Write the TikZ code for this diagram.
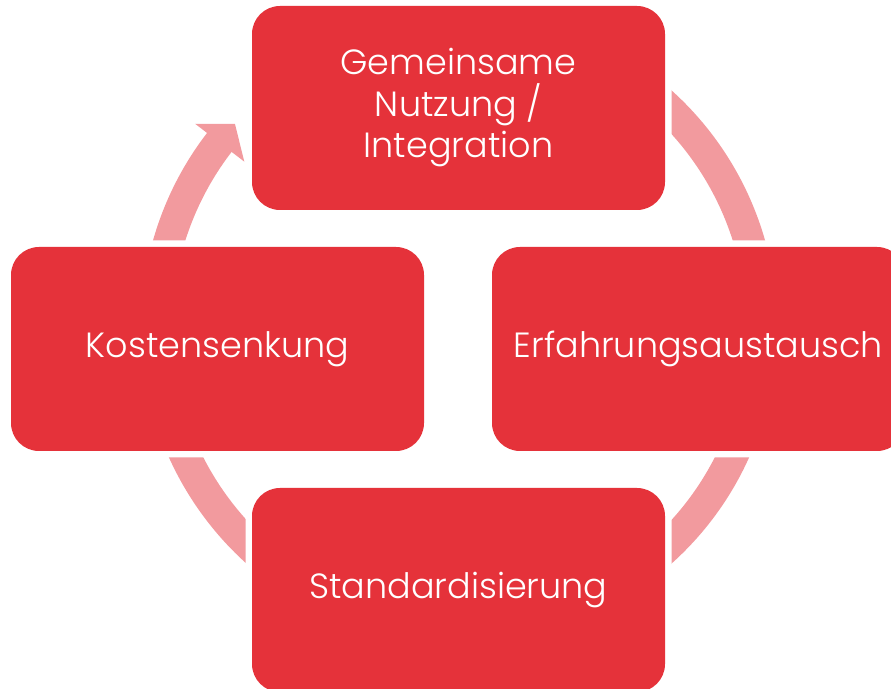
\documentclass[tikz,border=0pt]{standalone}
\usepackage{fontspec}
\setmainfont{Poppins}[UprightFont=* Light]
\definecolor{boxred}{RGB}{229,50,58}
\definecolor{ringpink}{RGB}{242,154,158}

\begin{document}
\begin{tikzpicture}[x=1pt,y=1pt,
    stage/.style={rectangle,rounded corners=28pt,minimum width=413pt,minimum height=204pt,
      inner sep=0pt,outer sep=0pt,fill=boxred,text=white,align=center,
      font=\fontsize{35}{41.5}\selectfont,
      preaction={draw=white,line width=13pt}}]
        \useasboundingbox (0,0) rectangle (891,688);
        \coordinate (ctr) at (459,361);
        % ring with arrow head
        \draw[ringpink,line width=31pt] ([shift={(ctr)}]80:302.5) arc[start angle=80,end angle=-218,radius=302.5];
        \fill[ringpink] ([shift={(ctr)}]142.4:333) -- ([shift={(ctr)}]137.8:302.5) -- ([shift={(ctr)}]142.4:271) -- cycle;
        \node[stage] (nutzung) at (458.5,580) {Gemeinsame\\Nutzung /\\Integration};
        \node[stage] (kosten) at (217.5,339) {Kostensenkung};
        \node[stage] (erfahrung) at (698.5,339) {Erfahrungsaustausch};
        \node[stage] (standard) at (458.5,98) {Standardisierung};
      \end{tikzpicture}
\end{document}
